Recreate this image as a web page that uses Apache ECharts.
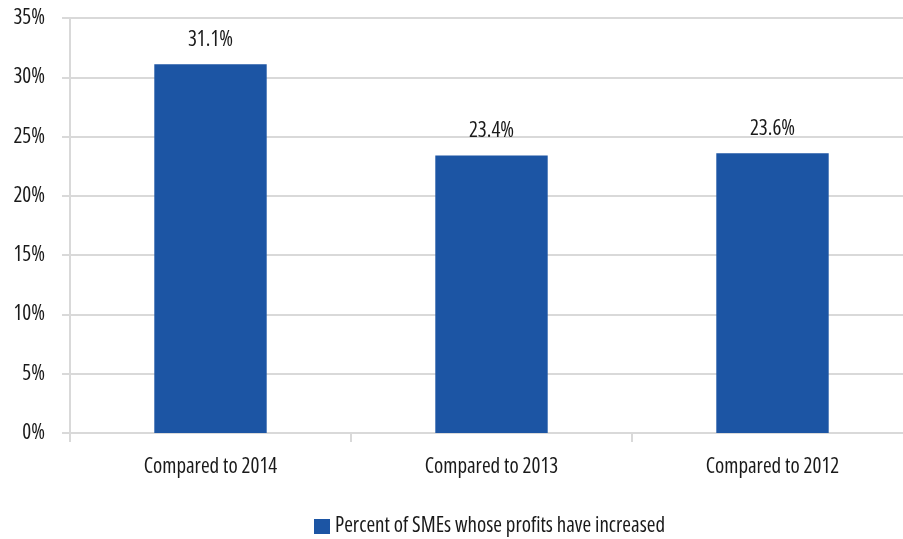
<!DOCTYPE html>
<html>
<head>
<meta charset="utf-8">
<script src="https://cdn.jsdelivr.net/npm/echarts@6/dist/echarts.min.js"></script>
<style>
  html, body { margin: 0; padding: 0; background: #fff; }
  #chart { width: 903px; height: 539px; }
</style>
</head>
<body>
<div id="chart"></div>
<script>
// Share of SMEs reporting higher profits, by comparison year
const categories = ['Compared to 2014', 'Compared to 2013', 'Compared to 2012'];
const profitIncreased = [31.1, 23.4, 23.6];
const seriesName = 'Percent of SMEs whose profits have increased';

// Condensed width of the Open Sans variable font, requested through the font shorthand
const FONT = "'Open Sans', 'Roboto', sans-serif";
const STRETCH = 'condensed';
const FONT_SIZE = 21;
const GRID_COLOR = '#d9d9d9';
const TEXT_COLOR = '#1a1a1a';

const textBase = { fontFamily: FONT, fontWeight: STRETCH, fontSize: FONT_SIZE, color: TEXT_COLOR };

const chart = echarts.init(document.getElementById('chart'), null, { renderer: 'canvas' });

chart.setOption({
  animation: false,
  textStyle: { fontFamily: FONT },
  // plot area runs slightly past the right edge of the canvas
  grid: { left: 70, width: 843, top: 18, bottom: 106, containLabel: false, outerBoundsMode: 'none' },
  legend: {
    top: 516,
    left: 314,
    padding: 0,
    itemWidth: 16,
    itemHeight: 15,
    itemGap: 6,
    icon: 'rect',
    textStyle: Object.assign({}, textBase),
    data: [seriesName]
  },
  xAxis: {
    type: 'category',
    data: categories,
    axisLine: { lineStyle: { color: GRID_COLOR, width: 2 } },
    axisTick: { show: true, length: 9, lineStyle: { color: GRID_COLOR, width: 2 } },
    axisLabel: Object.assign({ margin: 24 }, textBase)
  },
  yAxis: {
    type: 'value',
    min: 0,
    max: 35,
    interval: 5,
    axisLine: { show: true, lineStyle: { color: GRID_COLOR, width: 2 } },
    axisTick: { show: true, length: 8, lineStyle: { color: GRID_COLOR, width: 2 } },
    splitLine: { lineStyle: { color: GRID_COLOR, width: 2 } },
    axisLabel: Object.assign({ margin: 25, formatter: v => v + '%' }, textBase)
  },
  series: [{
    name: seriesName,
    type: 'bar',
    data: profitIncreased,
    barWidth: '40%',
    itemStyle: { color: '#1c55a4' },
    label: Object.assign({
      show: true,
      position: 'top',
      distance: 14,
      formatter: p => p.value.toFixed(1) + '%'
    }, textBase)
  }]
});
</script>
</body>
</html>
